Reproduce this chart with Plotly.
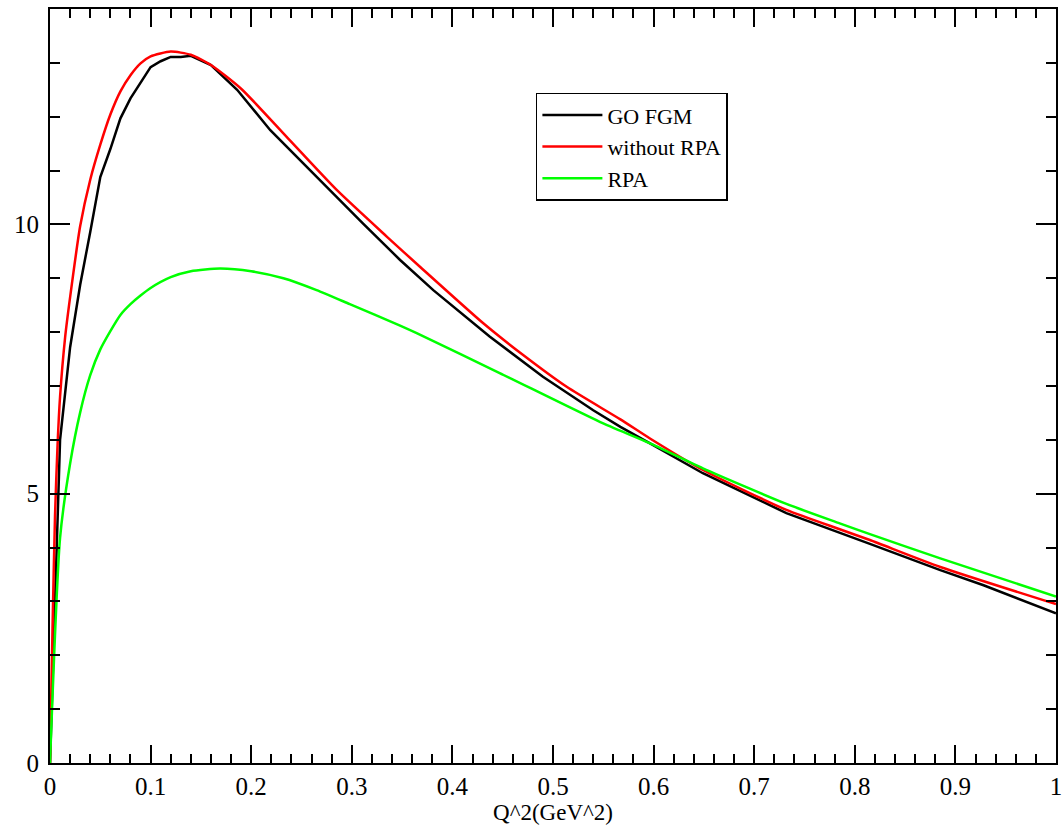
import plotly.graph_objects as go

# GO FGM (black)
x_fgm = [0, 0.01, 0.02, 0.03, 0.04, 0.05, 0.06, 0.07, 0.08, 0.09, 0.10, 0.11, 0.12, 0.13, 0.14,
         0.16, 0.186, 0.219, 0.268, 0.311, 0.348, 0.381, 0.437, 0.49, 0.54, 0.567, 0.596, 0.649,
         0.732, 0.785, 0.815, 0.885, 0.928, 1.0]
y_fgm = [0, 6.0, 7.72, 8.88, 9.86, 10.88, 11.40, 11.97, 12.34, 12.64, 12.92, 13.03, 13.11, 13.11, 13.13,
         12.96, 12.50, 11.75, 10.82, 10.02, 9.34, 8.78, 7.92, 7.17, 6.55, 6.24, 5.94, 5.38,
         4.64, 4.28, 4.07, 3.58, 3.30, 2.78]

# without RPA (red)
x_norpa = [0, 0.0025, 0.005, 0.0075, 0.01, 0.015, 0.02, 0.03, 0.04, 0.05, 0.06, 0.07, 0.08, 0.09, 0.10,
           0.12, 0.14, 0.16, 0.19, 0.235, 0.285, 0.335, 0.368, 0.431, 0.47, 0.514, 0.567, 0.596, 0.649,
           0.732, 0.785, 0.815, 0.885, 1.0]
y_norpa = [0, 2.5, 4.6, 5.9, 6.8, 7.9, 8.65, 9.97, 10.83, 11.48, 12.04, 12.47, 12.77, 12.99, 13.12,
           13.21, 13.15, 12.96, 12.52, 11.63, 10.64, 9.77, 9.21, 8.16, 7.58, 6.98, 6.38, 6.03, 5.44,
           4.70, 4.34, 4.14, 3.64, 2.95]

# RPA (green)
x_rpa = [0, 0.01, 0.02, 0.03, 0.04, 0.05, 0.06, 0.07, 0.08, 0.09, 0.10, 0.12, 0.14, 0.169, 0.20,
         0.232, 0.265, 0.298, 0.348, 0.3645, 0.447, 0.547, 0.596, 0.649, 0.732, 0.785, 0.815, 0.885, 1.0]
y_rpa = [0, 4.18, 5.56, 6.51, 7.20, 7.68, 8.02, 8.32, 8.52, 8.68, 8.82, 9.02, 9.13, 9.18, 9.13,
         9.00, 8.78, 8.52, 8.12, 7.98, 7.24, 6.33, 5.94, 5.47, 4.81, 4.45, 4.25, 3.80, 3.09]

x_ticks = [0, 0.1, 0.2, 0.3, 0.4, 0.5, 0.6, 0.7, 0.8, 0.9, 1]
x_tick_labels = ["0", "0.1", "0.2", "0.3", "0.4", "0.5", "0.6", "0.7", "0.8", "0.9", "1"]
y_ticks = [0, 5, 10]
y_tick_labels = ["0", "5", "10"]

FONT = "Liberation Serif"

fig = go.Figure()
fig.add_trace(go.Scatter(x=x_fgm, y=y_fgm, mode="lines", name="GO FGM",
                         line=dict(color="#000000", width=2.5)))
fig.add_trace(go.Scatter(x=x_norpa, y=y_norpa, mode="lines", name="without RPA",
                         line=dict(color="#ff0000", width=2.5, shape="spline", smoothing=0.6)))
fig.add_trace(go.Scatter(x=x_rpa, y=y_rpa, mode="lines", name="RPA",
                         line=dict(color="#00ff00", width=2.5, shape="spline", smoothing=0.6)))

axis_common = dict(
    showgrid=False, zeroline=False, showline=True, linecolor="black", linewidth=2,
    mirror="allticks", ticks="inside", tickcolor="black", tickwidth=1.5,
    tickfont=dict(family=FONT, size=25, color="black"), automargin=False,
    ticklabeloverflow="allow",
)

fig.update_xaxes(**axis_common, range=[0, 1], tickmode="array", tickvals=x_ticks,
                 ticktext=x_tick_labels, ticklen=18,
                 minor=dict(ticks="inside", dtick=0.02, ticklen=9, tickcolor="black", tickwidth=1.5),
                 title=dict(text="Q^2(GeV^2)", font=dict(family=FONT, size=23, color="black"),
                            standoff=0))
fig.update_yaxes(**axis_common, range=[0, 14], tickmode="array", tickvals=y_ticks,
                 ticktext=y_tick_labels, ticklen=20, ticklabelstandoff=4,
                 minor=dict(ticks="inside", dtick=1, ticklen=10, tickcolor="black", tickwidth=1.5))

fig.update_layout(
    width=1062, height=830,
    margin=dict(l=50, r=6, t=9, b=67),
    plot_bgcolor="white", paper_bgcolor="white",
    font=dict(family=FONT, color="black"),
    legend=dict(x=0.483, y=0.889, xanchor="left", yanchor="top",
                bgcolor="white", bordercolor="black", borderwidth=1.5,
                font=dict(family=FONT, size=22, color="black"),
                itemwidth=60, tracegroupgap=0),
    showlegend=True,
)

fig.write_html("out.html")
